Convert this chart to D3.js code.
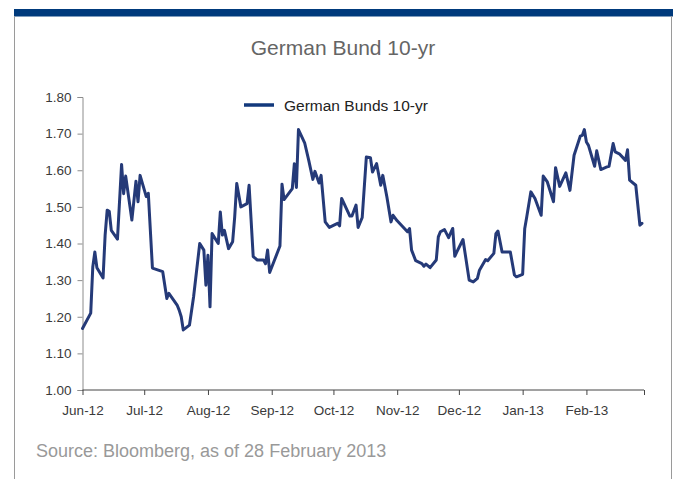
<!DOCTYPE html>
<html>
<head>
<meta charset="utf-8">
<script src="https://cdn.jsdelivr.net/npm/d3@7"></script>
<style>
  html, body { margin: 0; padding: 0; background: #ffffff; }
  svg { display: block; font-family: "Liberation Sans", Arial, Helvetica, sans-serif; }
</style>
</head>
<body>
<svg id="chart" width="673" height="479"></svg>
<script>
// German 10-year Bund yield (%), June 2012 – February 2013
const dates = [
  "2012-06-01","2012-06-05","2012-06-06","2012-06-07","2012-06-08","2012-06-11","2012-06-12","2012-06-13","2012-06-14","2012-06-15","2012-06-18","2012-06-20","2012-06-21","2012-06-22","2012-06-25","2012-06-27","2012-06-28","2012-06-29",
  "2012-07-02","2012-07-03","2012-07-05","2012-07-10","2012-07-12","2012-07-13","2012-07-17","2012-07-18","2012-07-19","2012-07-20","2012-07-23","2012-07-25","2012-07-28","2012-07-30","2012-07-31",
  "2012-08-01","2012-08-02","2012-08-03","2012-08-06","2012-08-07","2012-08-08","2012-08-09","2012-08-11","2012-08-13","2012-08-14","2012-08-15","2012-08-17","2012-08-20","2012-08-21","2012-08-23","2012-08-25","2012-08-28","2012-08-29","2012-08-30","2012-08-31",
  "2012-09-05","2012-09-06","2012-09-07","2012-09-11","2012-09-12","2012-09-13","2012-09-14","2012-09-17","2012-09-19","2012-09-21","2012-09-22","2012-09-24","2012-09-25","2012-09-27","2012-09-29",
  "2012-10-03","2012-10-04","2012-10-05","2012-10-09","2012-10-10","2012-10-12","2012-10-13","2012-10-15","2012-10-17","2012-10-19","2012-10-20","2012-10-22","2012-10-24","2012-10-25","2012-10-27","2012-10-29","2012-10-30",
  "2012-11-01","2012-11-06","2012-11-07","2012-11-08","2012-11-10","2012-11-13","2012-11-14","2012-11-15","2012-11-17","2012-11-20","2012-11-21","2012-11-22","2012-11-24","2012-11-26","2012-11-28","2012-11-29","2012-11-30",
  "2012-12-03","2012-12-06","2012-12-08","2012-12-10","2012-12-11","2012-12-14","2012-12-15","2012-12-18","2012-12-19","2012-12-20","2012-12-22","2012-12-26","2012-12-28","2012-12-29",
  "2013-01-01","2013-01-02","2013-01-03","2013-01-05","2013-01-07","2013-01-10","2013-01-11","2013-01-13","2013-01-16","2013-01-17","2013-01-19","2013-01-22","2013-01-24","2013-01-26","2013-01-29","2013-01-30","2013-01-31",
  "2013-02-01","2013-02-02","2013-02-05","2013-02-06","2013-02-08","2013-02-11","2013-02-12","2013-02-14","2013-02-15","2013-02-17","2013-02-20","2013-02-21","2013-02-22","2013-02-25","2013-02-27","2013-02-28"
];
const yields = [
  1.168,1.21,1.336,1.377,1.334,1.306,1.423,1.491,1.488,1.436,1.412,1.616,1.536,1.584,1.464,1.57,1.514,1.586,
  1.528,1.537,1.333,1.323,1.25,1.264,1.232,1.218,1.20,1.164,1.177,1.254,1.40,1.382,1.286,
  1.368,1.227,1.427,1.40,1.486,1.423,1.436,1.386,1.405,1.473,1.564,1.50,1.509,1.559,1.364,1.355,1.355,1.345,1.382,1.321,
  1.393,1.562,1.52,1.55,1.618,1.553,1.711,1.675,1.627,1.575,1.597,1.565,1.586,1.459,1.444,
  1.455,1.448,1.523,1.475,1.475,1.505,1.444,1.471,1.636,1.634,1.595,1.618,1.559,1.586,1.527,1.459,1.477,
  1.462,1.432,1.441,1.382,1.353,1.345,1.338,1.344,1.334,1.355,1.418,1.432,1.438,1.416,1.441,1.365,1.377,
  1.411,1.30,1.295,1.305,1.327,1.356,1.353,1.373,1.427,1.434,1.377,1.377,1.314,1.309,
  1.316,1.44,1.473,1.541,1.523,1.477,1.584,1.568,1.514,1.607,1.556,1.593,1.545,1.641,1.693,1.695,1.711,
  1.677,1.668,1.611,1.653,1.602,1.609,1.611,1.673,1.65,1.645,1.627,1.656,1.573,1.559,1.45,1.455
];
const yTicks = [1.00, 1.10, 1.20, 1.30, 1.40, 1.50, 1.60, 1.70, 1.80];
const monthTicks = ["2012-06-01","2012-07-01","2012-08-01","2012-09-01","2012-10-01","2012-11-01","2012-12-01","2013-01-01","2013-02-01","2013-03-01"];
const monthLabels = ["Jun-12","Jul-12","Aug-12","Sep-12","Oct-12","Nov-12","Dec-12","Jan-13","Feb-13",""];
const seriesName = "German Bunds 10-yr";
const chartTitle = "German Bund 10-yr";
const sourceNote = "Source: Bloomberg, as of 28 February 2013";

const parse = d3.utcParse("%Y-%m-%d");
const series = dates.map((d, i) => ({ date: parse(d), value: yields[i] }));
const tickDates = monthTicks.map(parse);

const svg = d3.select("#chart");

// page frame: navy header strip with thin grey side rules
svg.append("rect").attr("x", 14).attr("y", 9).attr("width", 659).attr("height", 7.5).attr("fill", "#003a7c");
svg.append("line").attr("x1", 14.5).attr("x2", 14.5).attr("y1", 16).attr("y2", 479)
  .attr("stroke", "#9a9a9a").attr("stroke-width", 1);
svg.append("line").attr("x1", 671.5).attr("x2", 671.5).attr("y1", 16).attr("y2", 479)
  .attr("stroke", "#9a9a9a").attr("stroke-width", 1);

const x = d3.scaleUtc().domain([tickDates[0], tickDates[tickDates.length - 1]]).range([82.5, 644]);
const y = d3.scaleLinear().domain([1.0, 1.8]).range([390, 97]);

// title
svg.append("text").attr("x", 343).attr("y", 55).attr("text-anchor", "middle")
  .attr("font-size", 21).attr("fill", "#656565").text(chartTitle);

// y axis
const yAxis = svg.append("g").attr("transform", "translate(82.5,0)")
  .call(d3.axisLeft(y).tickValues(yTicks).tickFormat(d3.format(".2f")).tickSize(5).tickPadding(6));
yAxis.select(".domain").attr("stroke", "#8c8c8c");
yAxis.selectAll(".tick line").attr("stroke", "#8c8c8c");
yAxis.selectAll(".tick text").attr("font-size", 13.5).attr("fill", "#3a3a3a")
  .attr("font-family", "Liberation Sans, Arial, sans-serif");

// x axis
const xAxis = svg.append("g").attr("transform", "translate(0,390)")
  .call(d3.axisBottom(x).tickValues(tickDates).tickSize(5).tickPadding(10)
    .tickFormat((d, i) => monthLabels[i]));
xAxis.select(".domain").attr("stroke", "#444").attr("d", `M${x.range()[0]},0H${x.range()[1]}`);
xAxis.selectAll(".tick line").attr("stroke", "#444");
xAxis.selectAll(".tick text").attr("font-size", 13.5).attr("fill", "#3a3a3a")
  .attr("font-family", "Liberation Sans, Arial, sans-serif");

// yield line
const line = d3.line().x(d => x(d.date)).y(d => y(d.value)).curve(d3.curveLinear);
svg.append("path").datum(series).attr("d", line)
  .attr("fill", "none").attr("stroke", "#253a78").attr("stroke-width", 3)
  .attr("stroke-linejoin", "round").attr("stroke-linecap", "round");

// legend
const legend = svg.append("g").attr("transform", "translate(244,105)");
legend.append("line").attr("x1", 0).attr("x2", 30).attr("y1", 0).attr("y2", 0)
  .attr("stroke", "#12397c").attr("stroke-width", 3.5);
legend.append("text").attr("x", 40).attr("y", 6).attr("font-size", 15.5).attr("fill", "#222")
  .text(seriesName);

// source note
svg.append("text").attr("x", 36).attr("y", 457).attr("font-size", 18).attr("fill", "#999")
  .text(sourceNote);
</script>
</body>
</html>
